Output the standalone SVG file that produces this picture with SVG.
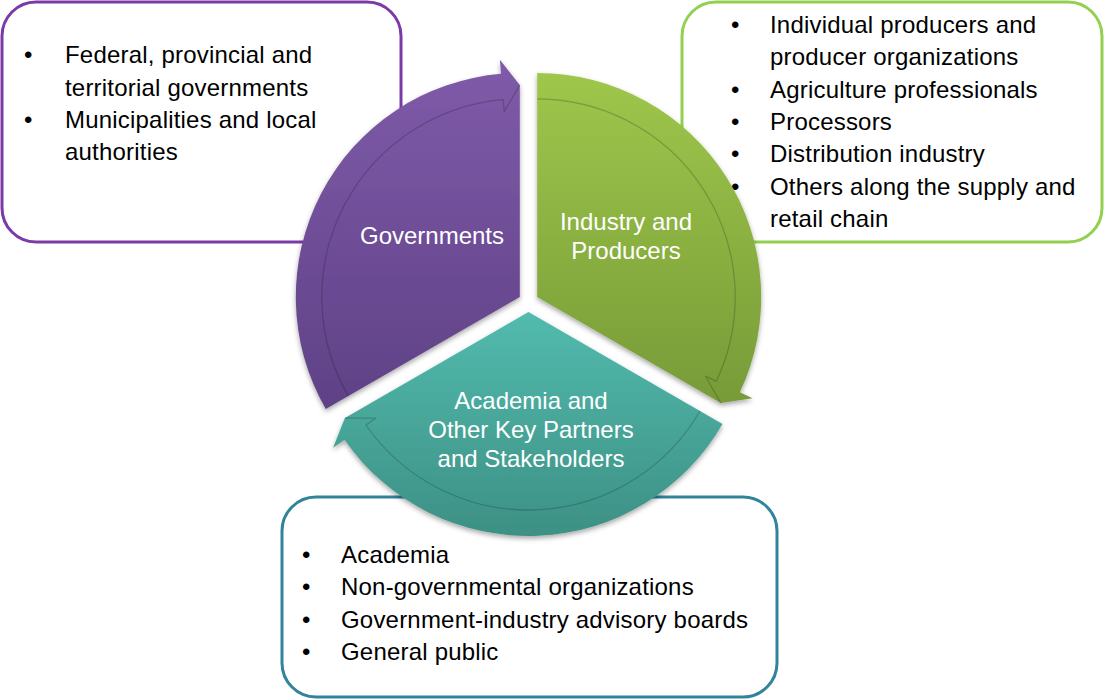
<svg xmlns="http://www.w3.org/2000/svg" width="1111" height="700" viewBox="0 0 1111 700">
  <defs>
    <linearGradient id="gPurple" x1="0" y1="0" x2="0" y2="1">
      <stop offset="0" stop-color="#7f5ba9"/>
      <stop offset="1" stop-color="#5f4186"/>
    </linearGradient>
    <linearGradient id="gGreen" x1="0" y1="0" x2="0" y2="1">
      <stop offset="0" stop-color="#9ec74b"/>
      <stop offset="1" stop-color="#779b38"/>
    </linearGradient>
    <linearGradient id="gTeal" x1="0" y1="0" x2="0" y2="1">
      <stop offset="0" stop-color="#52bbae"/>
      <stop offset="1" stop-color="#3d9084"/>
    </linearGradient>
    <filter id="shadow" x="-10%" y="-10%" width="120%" height="125%">
      <feDropShadow dx="0" dy="2.5" stdDeviation="2.5" flood-color="#000" flood-opacity="0.35"/>
    </filter>
  </defs>
  <style>
    .box { fill: #ffffff; stroke-width: 3; }
    .txt { font-family: "Liberation Sans", Arial, sans-serif; font-size: 24px; fill: #000000; letter-spacing: 0.2px; }
    .lbl { font-family: "Liberation Sans", Arial, sans-serif; font-size: 24px; fill: #ffffff; text-anchor: middle; }
    .bevel { fill: none; stroke: #000000; stroke-opacity: 0.18; stroke-width: 1.3; stroke-linejoin: round; }
  </style>

  <g id="box-governments">
    <rect class="box" x="2" y="2" width="399" height="240" rx="34" ry="34" stroke="#7a3aa8"/>
    <g class="txt">
      <text x="24" y="63">•</text>
      <text x="65" y="63">Federal, provincial and</text>
      <text x="65" y="95.5">territorial governments</text>
      <text x="24" y="128">•</text>
      <text x="65" y="128">Municipalities and local</text>
      <text x="65" y="160">authorities</text>
    </g>
  </g>

  <g id="box-industry">
    <rect class="box" x="682" y="2" width="420" height="240" rx="34" ry="34" stroke="#92d050"/>
    <g class="txt">
      <text x="731" y="33">•</text>
      <text x="770" y="33">Individual producers and</text>
      <text x="770" y="65">producer organizations</text>
      <text x="731" y="98">•</text>
      <text x="770" y="98">Agriculture professionals</text>
      <text x="731" y="130">•</text>
      <text x="770" y="130">Processors</text>
      <text x="731" y="162">•</text>
      <text x="770" y="162">Distribution industry</text>
      <text x="731" y="195">•</text>
      <text x="770" y="195">Others along the supply and</text>
      <text x="770" y="227">retail chain</text>
    </g>
  </g>

  <g id="box-academia">
    <rect class="box" x="282" y="497" width="495" height="200" rx="34" ry="34" stroke="#31849b"/>
    <g class="txt">
      <text x="302" y="563">•</text>
      <text x="341" y="563">Academia</text>
      <text x="302" y="595">•</text>
      <text x="341" y="595">Non-governmental organizations</text>
      <text x="302" y="628">•</text>
      <text x="341" y="628">Government-industry advisory boards</text>
      <text x="302" y="660">•</text>
      <text x="341" y="660">General public</text>
    </g>
  </g>

  <g id="seg-governments">
    <path filter="url(#shadow)" fill="url(#gPurple)" d="M519.8,297 L325.8,409 A224,224 0 0 1 501.06,73.8 L499.88,59.83 L519.8,85 Z"/>
    <path class="bevel" d="M348.33,396 A198,198 0 0 1 503.23,99.7 L504.24,111.65 L519.8,85"/>
    <text class="lbl" x="432" y="244">Governments</text>
  </g>

  <g id="seg-industry">
    <path filter="url(#shadow)" fill="url(#gGreen)" d="M537.2,297 L537.2,73 A224,224 0 0 1 739.88,392.37 L752.55,398.34 L720.8,403 Z"/>
    <path class="bevel" d="M537.2,99 A198,198 0 0 1 716.36,381.3 L705.5,376.2 L720.8,403"/>
    <text class="lbl" x="626" y="230">Industry and</text>
    <text class="lbl" x="626" y="259">Producers</text>
  </g>

  <g id="seg-academia">
    <path filter="url(#shadow)" fill="url(#gTeal)" d="M528.5,312 L722.49,424 A224,224 0 0 1 344.56,439.84 L333.07,447.83 L344.9,418 Z"/>
    <path class="bevel" d="M699.97,411 A198,198 0 0 1 365.91,425 L375.77,418.15 L344.9,418"/>
    <text class="lbl" x="531" y="409">Academia and</text>
    <text class="lbl" x="531" y="438">Other Key Partners</text>
    <text class="lbl" x="531" y="467">and Stakeholders</text>
  </g>

  <g id="connectors"/>
</svg>
